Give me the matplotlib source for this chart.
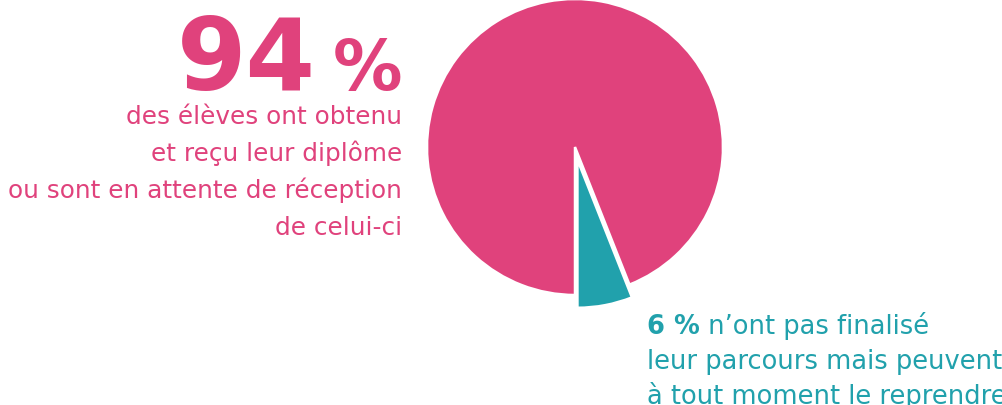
import matplotlib
matplotlib.use("Agg")
import matplotlib.pyplot as plt

# Data
shares = [6, 94]
share_labels = ["6 %", "94 %"]
pink_lines = ["des élèves ont obtenu", "et reçu leur diplôme",
              "ou sont en attente de réception", "de celui-ci"]
teal_first = " n’ont pas finalisé"
teal_lines = ["leur parcours mais peuvent", "à tout moment le reprendre"]

PINK = "#E0427C"
TEAL = "#21A1AC"
H = 405

fig = plt.figure(figsize=(10.03, 4.05), dpi=100)
ax = fig.add_axes([0, 0, 1, 1])
ax.pie(shares, colors=[TEAL, PINK], startangle=270, counterclock=True,
       explode=[13, 0], radius=148, center=(575, H - 147),
       wedgeprops=dict(linewidth=1.8, edgecolor="white"))
ax.set_xlim(0, 1003)
ax.set_ylim(0, H)
ax.set_aspect("equal")
ax.axis("off")

fam = ["DejaVu Sans"]
# big 94 %
ax.text(316, H - 90, "94", ha="right", va="baseline", fontsize=72,
        fontweight="bold", color=PINK, family=fam)
ax.text(402, H - 90, "%", ha="right", va="baseline", fontsize=50,
        fontweight="bold", color=PINK, family=fam)
for i, line in enumerate(pink_lines):
    ax.text(402, H - (124 + 37 * i), line, ha="right", va="baseline",
            fontsize=17.8, color=PINK, family=fam)

ts = 18.5
t = ax.text(647, H - 334, share_labels[0], ha="left", va="baseline",
            fontsize=ts, fontweight="bold", color=TEAL, family=fam)
fig.canvas.draw()
bb = t.get_window_extent()
x_next = ax.transData.inverted().transform((bb.x1, 0))[0]
ax.text(x_next, H - 334, teal_first, ha="left", va="baseline",
        fontsize=ts, color=TEAL, family=fam)
for i, line in enumerate(teal_lines):
    ax.text(647, H - (369 + 35 * i), line, ha="left", va="baseline",
            fontsize=ts, color=TEAL, family=fam)

fig.savefig("out.png", dpi=100)
